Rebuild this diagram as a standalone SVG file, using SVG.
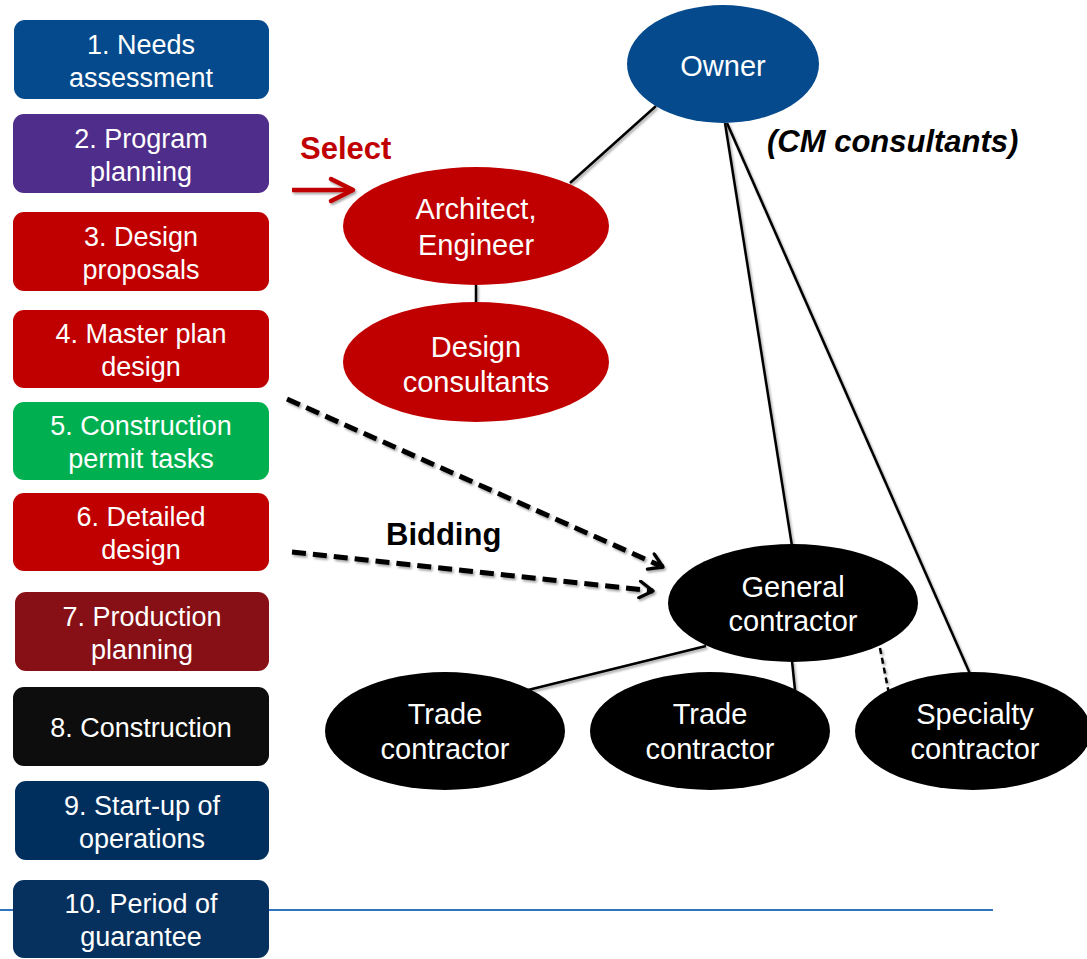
<svg xmlns="http://www.w3.org/2000/svg" width="1087" height="959" viewBox="0 0 1087 959">
  <defs>
    <filter id="shadow" x="-10%" y="-10%" width="130%" height="130%">
      <feDropShadow dx="1.5" dy="2" stdDeviation="1.2" flood-color="#000" flood-opacity="0.35"/>
    </filter>
    <marker id="chevBlack" viewBox="0 0 12 12" refX="10" refY="6" markerWidth="4" markerHeight="4" orient="auto" markerUnits="strokeWidth">
      <path d="M2,1 L10,6 L2,11" fill="none" stroke="#000" stroke-width="2" stroke-linecap="round" stroke-linejoin="round"/>
    </marker>
    <marker id="chevRed" viewBox="-28 -16 32 32" refX="0" refY="0" markerWidth="32" markerHeight="32" orient="auto" markerUnits="userSpaceOnUse">
      <path d="M-22,-11 L0,0 L-22,11" fill="none" stroke="#c00000" stroke-width="4.5" stroke-linecap="round" stroke-linejoin="round"/>
    </marker>
  </defs>
  <style>
    .step text, .node text { font-family: "Liberation Sans", Arial, sans-serif; fill: #fff; text-anchor: middle; }
    .step text { font-size: 27px; }
    .node text { font-size: 29px; }
    .label { font-family: "Liberation Sans", Arial, sans-serif; font-weight: bold; font-size: 31px; }
    .link { stroke: #000; stroke-width: 2.5; fill: none; }
    .bid { stroke: #000; stroke-width: 5; fill: none; stroke-dasharray: 14 7; marker-end: url(#chevBlack); }
  </style>

  <rect width="1087" height="959" fill="#fff"/>

  <!-- footer rule -->
  <line x1="0" y1="910" x2="993" y2="910" stroke="#2f74c0" stroke-width="2"/>

  <!-- connectors -->
  <g id="connectors" filter="url(#shadow)">
    <line class="link" x1="656" y1="106" x2="570" y2="183"/>
    <line class="link" x1="725" y1="123" x2="792" y2="546"/>
    <line class="link" x1="727" y1="123" x2="971" y2="676"/>
    <line class="link" x1="476" y1="284" x2="476" y2="304"/>
    <line class="link" x1="706" y1="646" x2="528" y2="690"/>
    <line class="link" x1="792" y1="661" x2="795" y2="690"/>
    <line class="link" x1="880" y1="648" x2="889" y2="694" stroke-width="2" stroke-dasharray="6 4"/>
    <line class="bid" x1="287" y1="399" x2="663" y2="567"/>
    <line class="bid" x1="292" y1="552" x2="653" y2="591"/>
    <line x1="292" y1="190" x2="353" y2="190" stroke="#c00000" stroke-width="4.5" marker-end="url(#chevRed)"/>
  </g>

  <!-- labels -->
  <text class="label" x="300" y="159" fill="#c00000">Select</text>
  <text class="label" x="386" y="545" fill="#000">Bidding</text>
  <text class="label" x="767" y="152" fill="#000" font-style="italic">(CM consultants)</text>

  <!-- process steps -->
  <g id="step1" class="step">
    <rect x="14" y="20" width="255" height="79" rx="11" fill="#044a8c"/>
    <text x="141" y="54">1. Needs</text>
    <text x="141" y="87">assessment</text>
  </g>
  <g id="step2" class="step">
    <rect x="13" y="114" width="256" height="79" rx="11" fill="#4f2d8a"/>
    <text x="141" y="148">2. Program</text>
    <text x="141" y="181">planning</text>
  </g>
  <g id="step3" class="step">
    <rect x="13" y="212" width="256" height="79" rx="11" fill="#c00000"/>
    <text x="141" y="246">3. Design</text>
    <text x="141" y="279">proposals</text>
  </g>
  <g id="step4" class="step">
    <rect x="13" y="310" width="256" height="78" rx="11" fill="#c00000"/>
    <text x="141" y="343">4. Master plan</text>
    <text x="141" y="376">design</text>
  </g>
  <g id="step5" class="step">
    <rect x="13" y="402" width="256" height="78" rx="11" fill="#00b050"/>
    <text x="141" y="435">5. Construction</text>
    <text x="141" y="468">permit tasks</text>
  </g>
  <g id="step6" class="step">
    <rect x="13" y="493" width="256" height="78" rx="11" fill="#c00000"/>
    <text x="141" y="526">6. Detailed</text>
    <text x="141" y="559">design</text>
  </g>
  <g id="step7" class="step">
    <rect x="15" y="592" width="254" height="79" rx="11" fill="#870f16"/>
    <text x="142" y="626">7. Production</text>
    <text x="142" y="659">planning</text>
  </g>
  <g id="step8" class="step">
    <rect x="13" y="687" width="256" height="79" rx="11" fill="#0d0d0d"/>
    <text x="141" y="737">8. Construction</text>
  </g>
  <g id="step9" class="step">
    <rect x="15" y="781" width="254" height="79" rx="11" fill="#002f5e"/>
    <text x="142" y="815">9. Start-up of</text>
    <text x="142" y="848">operations</text>
  </g>
  <g id="step10" class="step">
    <rect x="13" y="880" width="256" height="78" rx="11" fill="#06305e"/>
    <text x="141" y="913">10. Period of</text>
    <text x="141" y="946">guarantee</text>
  </g>

  <!-- organisation nodes -->
  <g id="owner" class="node">
    <ellipse cx="723" cy="64" rx="96" ry="59" fill="#044a8c"/>
    <text x="723" y="76">Owner</text>
  </g>
  <g id="architect" class="node">
    <ellipse cx="476" cy="226" rx="133" ry="59" fill="#c00000"/>
    <text x="476" y="219">Architect,</text>
    <text x="476" y="255">Engineer</text>
  </g>
  <g id="design-consultants" class="node">
    <ellipse cx="476" cy="362" rx="133" ry="60" fill="#c00000"/>
    <text x="476" y="357">Design</text>
    <text x="476" y="392">consultants</text>
  </g>
  <g id="general-contractor" class="node">
    <ellipse cx="793" cy="603" rx="125" ry="59" fill="#000"/>
    <text x="793" y="597">General</text>
    <text x="793" y="631">contractor</text>
  </g>
  <g id="trade-contractor-1" class="node">
    <ellipse cx="445" cy="731" rx="120" ry="59" fill="#000"/>
    <text x="445" y="724">Trade</text>
    <text x="445" y="759">contractor</text>
  </g>
  <g id="trade-contractor-2" class="node">
    <ellipse cx="710" cy="731" rx="120" ry="59" fill="#000"/>
    <text x="710" y="724">Trade</text>
    <text x="710" y="759">contractor</text>
  </g>
  <g id="specialty-contractor" class="node">
    <ellipse cx="973" cy="731" rx="118" ry="59" fill="#000"/>
    <text x="975" y="724">Specialty</text>
    <text x="975" y="759">contractor</text>
  </g>
</svg>
